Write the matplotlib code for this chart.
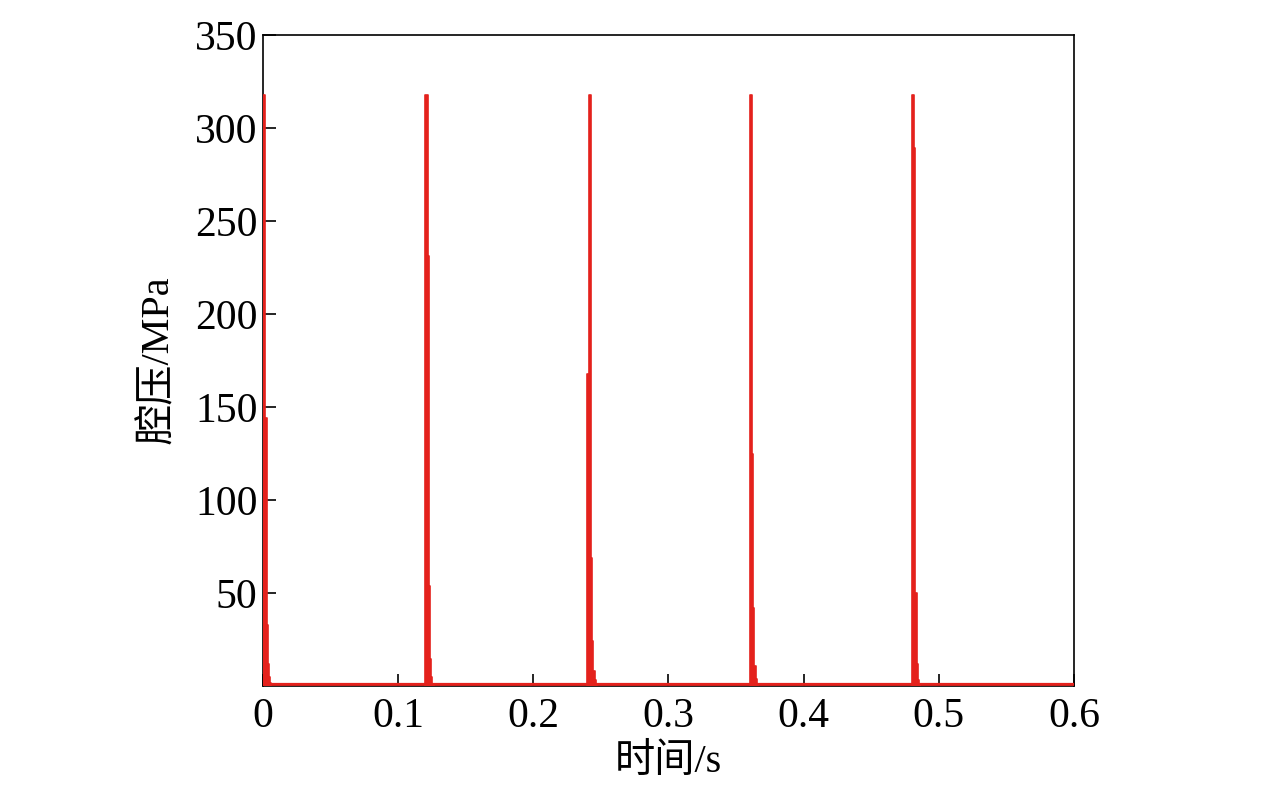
import numpy as np
import matplotlib
matplotlib.use('Agg')
import matplotlib.pyplot as plt

plt.rcParams['font.family'] = ['Liberation Serif', 'Noto Sans CJK SC']

# pulse start times (s) and sampled cavity pressure after each start (MPa)
pulse_starts = [0.0, 0.12, 0.24, 0.36, 0.48]
pulse_values = [
    [318, 318, 144, 33, 12, 5, 1.5, 0],
    [318, 318, 231, 54, 14.5, 5, 1, 0],
    [168, 318, 318, 69, 24, 8, 3, 1, 0],
    [318, 318, 125, 42, 11, 4, 1, 0],
    [318, 318, 289, 50, 12, 3, 1, 0],
]
dt = 0.0009
t_end = 0.6

x_ticks = [0, 0.1, 0.2, 0.3, 0.4, 0.5, 0.6]
x_labels = ['0', '0.1', '0.2', '0.3', '0.4', '0.5', '0.6']
y_ticks = [50, 100, 150, 200, 250, 300, 350]

# build the step series
t_all = [0.0]
p_all = [0.0]
for t0, vals in zip(pulse_starts, pulse_values):
    for i, v in enumerate(vals):
        t_all.append(t0 + i * dt)
        p_all.append(v)
t_all.append(t_end)
p_all.append(0.0)

red = '#e4211c'
fig = plt.figure(figsize=(12.76, 7.86), dpi=100)
ax = fig.add_axes([0.2061, 0.1272, 0.6356, 0.8283])
ax.fill_between(t_all, 0, p_all, step='post', color=red, linewidth=0, zorder=3)
ax.plot(t_all, p_all, drawstyle='steps-post', color=red, linewidth=1.2, zorder=3)
ax.plot([0, 0.6], [1.2, 1.2], color=red, linewidth=1.6, zorder=3)

ax.set_xlim(0, 0.6)
ax.set_ylim(0, 350)
ax.set_xticks(x_ticks)
ax.set_xticklabels(x_labels)
ax.set_yticks(y_ticks)
ax.tick_params(direction='in', length=9, width=1.2, labelsize=30, pad=4)
ax.tick_params(axis='x', pad=8)
for s in ax.spines.values():
    s.set_linewidth(1.2)

ax.set_xlabel('时间/s', fontsize=29, labelpad=6)
ax.set_ylabel('腔压/MPa', fontsize=29, labelpad=12)

fig.savefig('out.png', dpi=100)
